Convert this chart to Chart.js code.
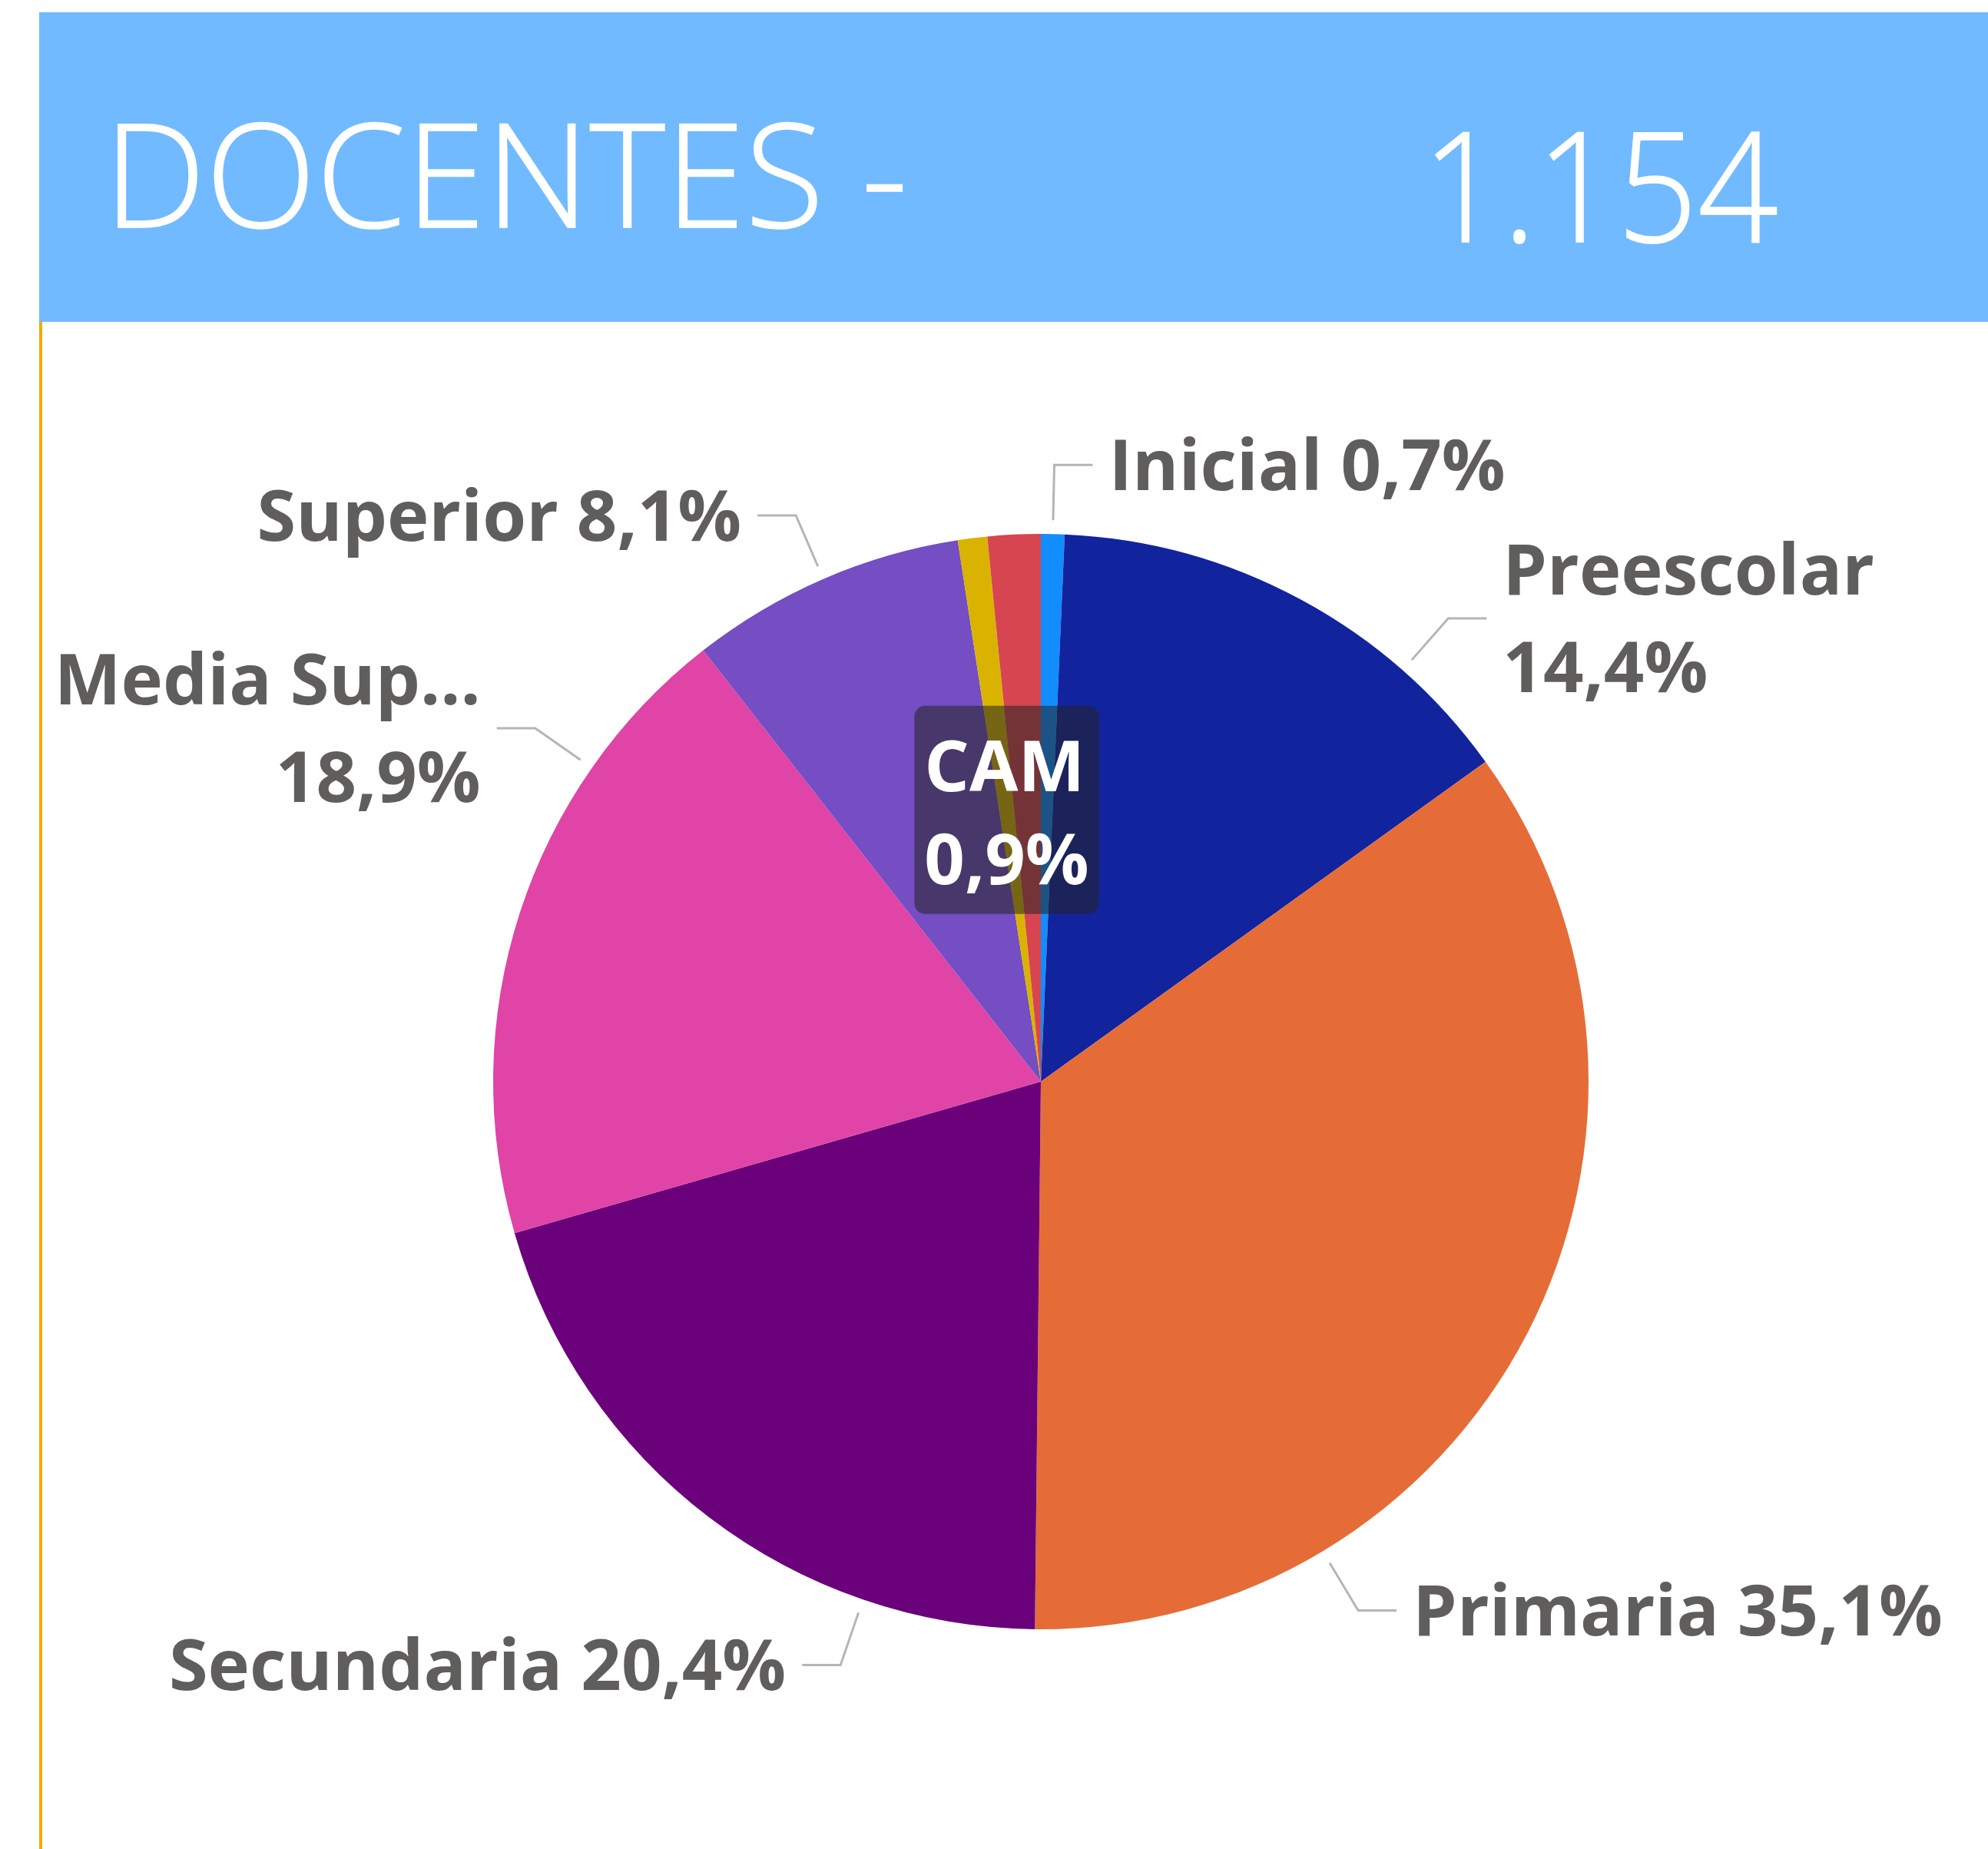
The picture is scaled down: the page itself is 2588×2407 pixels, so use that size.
<!DOCTYPE html>
<html>
<head>
<meta charset="utf-8">
<script src="https://cdn.jsdelivr.net/npm/chart.js@4.4.1/dist/chart.umd.min.js"></script>
<style>
    body { margin: 0; background: #fff; width: 2588px; height: 2407px; overflow: hidden; position: relative; font-family: "Open Sans", "Segoe UI", sans-serif; }
    #header { position: absolute; left: 51px; top: 16px; width: 2537px; height: 403px; background: #71baff; z-index: 2; }
    #header span { position: absolute; color: #fff; line-height: 1; white-space: nowrap; font-weight: 300; }
    #title { left: 84px; top: 113px; font-size: 188px; -webkit-text-stroke: 1.5px #fff; }
    #total { left: 1800px; top: 122px; font-size: 200px; transform: scaleX(0.92); transform-origin: left top; -webkit-text-stroke: 1.5px #fff; }
    #edge { position: absolute; left: 51px; top: 419px; width: 4px; height: 1988px; background: #f4a900; z-index: 2; }
    #pie { position: absolute; left: 0; top: 0; z-index: 1; }
</style>
</head>
<body>
<div id="header"><span id="title">DOCENTES -</span><span id="total"></span></div>
<div id="edge"></div>
<canvas id="pie" width="2588" height="2407"></canvas>
<script>
const categories = ['Inicial', 'Preescolar', 'Primaria', 'Secundaria', 'Media Superior', 'Superior', 'CAM', 'Formación para el Trabajo'];
const docentes = [8, 166, 405, 235, 218, 94, 10, 18];
const sliceColors = ['#118dff', '#12239e', '#e66c37', '#6b007b', '#e044a7', '#744ec2', '#d9b300', '#d64550'];

// where the leader leaves each slice (fraction of the arc), null = no outside label
const leaderFraction = [0.5, 0.75, 0.75, 0.25, 0.75, 0.5, null, null];
const wrapLabel = [false, true, false, false, true, false, false, false];
const insideLabel = [false, false, false, false, false, false, true, false];

const FONT = '"Open Sans", "Segoe UI", sans-serif';
const total = docentes.reduce((a, b) => a + b, 0);
document.getElementById('total').textContent = String(total).replace(/\B(?=(\d{3})+(?!\d))/g, '.');

function pct(v) {
    return (v / total * 100).toFixed(1).replace('.', ',') + '%';
}
function shortName(name) {
    return name.length > 10 ? name.slice(0, 9) + '...' : name;
}

const sliceLabels = {
    id: 'sliceLabels',
    afterDatasetsDraw(chart) {
        const ctx = chart.ctx;
        const meta = chart.getDatasetMeta(0);
        const fs = 92;
        const capH = fs * 0.714;
        ctx.save();
        ctx.font = '700 ' + fs + 'px ' + FONT;
        ctx.textBaseline = 'alphabetic';

        meta.data.forEach((arc, i) => {
            const name = shortName(categories[i]);
            const p = pct(docentes[i]);

            if (leaderFraction[i] !== null) {
                const a = arc.startAngle + leaderFraction[i] * (arc.endAngle - arc.startAngle);
                const R = arc.outerRadius;
                const cx = arc.x, cy = arc.y;
                const x1 = cx + (R + 18) * Math.cos(a), y1 = cy + (R + 18) * Math.sin(a);
                const x2 = cx + (R + 90) * Math.cos(a), y2 = cy + (R + 90) * Math.sin(a);
                const side = Math.cos(a) >= 0 ? 1 : -1;
                const x3 = x2 + side * 50;

                ctx.strokeStyle = '#b5b5b5';
                ctx.lineWidth = 3;
                ctx.beginPath();
                ctx.moveTo(x1, y1);
                ctx.lineTo(x2, y2);
                ctx.lineTo(x3, y2);
                ctx.stroke();

                const lines = wrapLabel[i] ? [name, p] : [name + ' ' + p];
                const gap = 127;
                const blockH = capH + gap * (lines.length - 1);
                let base = y2 - blockH / 2 + capH;
                ctx.fillStyle = '#605e5c';
                ctx.textAlign = side > 0 ? 'left' : 'right';
                lines.forEach(l => {
                    ctx.fillText(l, x3 + side * 21, base);
                    base += gap;
                });
            }

            if (insideLabel[i]) {
                const pos = arc.tooltipPosition();
                const lines = [name, p];
                const gap = 121;
                const w = Math.max(...lines.map(l => ctx.measureText(l).width)) + 26;
                const h = 271;
                const bx = pos.x - w / 2, by = pos.y - h / 2;
                ctx.fillStyle = 'rgba(37, 36, 35, 0.55)';
                ctx.beginPath();
                ctx.roundRect(bx, by, w, h, 14);
                ctx.fill();
                ctx.fillStyle = '#ffffff';
                ctx.textAlign = 'left';
                const blockH = capH + gap;
                let base = pos.y - blockH / 2 + capH + 3;
                lines.forEach(l => {
                    ctx.fillText(l, bx + 13, base);
                    base += gap;
                });
            }
        });
        ctx.restore();
    }
};

new Chart(document.getElementById('pie').getContext('2d'), {
    type: 'pie',
    data: {
        labels: categories,
        datasets: [{
            data: docentes,
            backgroundColor: sliceColors,
            borderWidth: 0,
            hoverOffset: 0,
            offset: 0
        }]
    },
    options: {
        responsive: false,
        devicePixelRatio: 1,
        animation: false,
        events: [],
        layout: { padding: { left: 642, top: 695, right: 520, bottom: 286 } },
        plugins: {
            legend: { display: false },
            tooltip: { enabled: false }
        }
    },
    plugins: [sliceLabels]
});
</script>
</body>
</html>
